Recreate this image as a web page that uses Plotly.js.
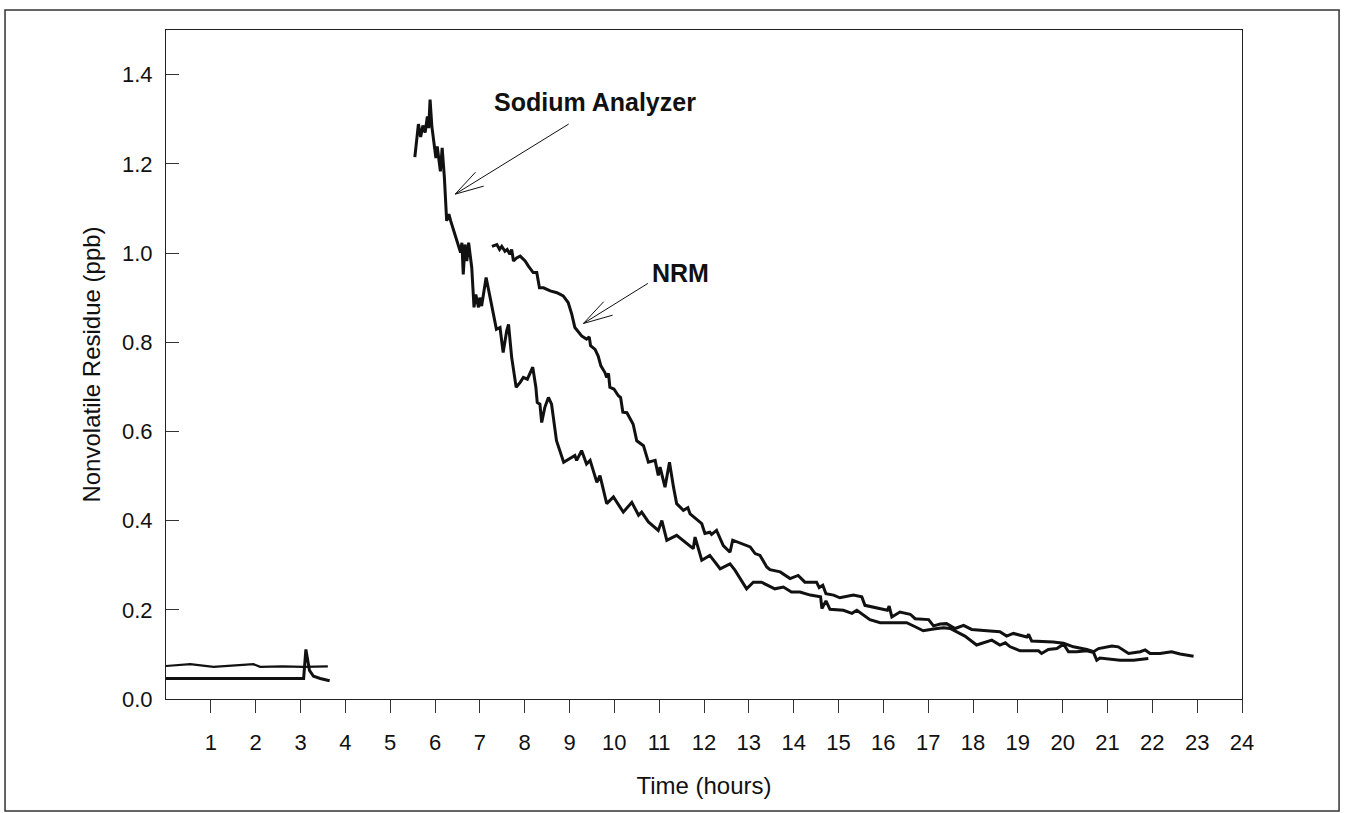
<!DOCTYPE html>
<html>
<head>
<meta charset="utf-8">
<script src="https://cdn.plot.ly/plotly-3.0.1.min.js"></script>
<style>
html,body{margin:0;padding:0;background:#fff;}
#chart{width:1348px;height:813px;}
</style>
</head>
<body>
<div id="chart"></div>
<script>
// ---- data ----
const sodiumHours = [5.55,5.63,5.68,5.73,5.78,5.83,5.86,5.89,5.93,5.96,5.99,6.02,6.05,6.10,6.12,6.16,6.21,6.26,6.31,6.35,6.41,6.47,6.53,6.57,6.60,6.63,6.67,6.71,6.75,6.78,6.82,6.87,6.91,6.97,7.00,7.04,7.14,7.23,7.30,7.37,7.45,7.52,7.60,7.64,7.71,7.81,7.90,7.97,8.06,8.18,8.25,8.28,8.34,8.38,8.45,8.53,8.60,8.71,8.87,9.12,9.16,9.27,9.38,9.46,9.53,9.61,9.68,9.76,9.83,9.98,10.20,10.39,10.54,10.61,10.76,10.98,11.06,11.17,11.39,11.76,11.80,11.95,12.13,12.36,12.58,12.69,12.95,13.10,13.28,13.58,13.77,13.95,14.14,14.37,14.60,14.63,14.72,14.81,15.11,15.30,15.41,15.70,15.93,16.19,16.52,16.71,16.89,17.12,17.34,17.49,17.64,17.82,18.08,18.42,18.60,18.72,18.83,19.05,19.46,19.53,19.68,19.87,20.02,20.13,20.31,20.54,20.69,20.76,20.83,21.28,21.58,21.91];
const sodiumPpb = [1.215,1.289,1.260,1.286,1.270,1.306,1.280,1.344,1.284,1.258,1.243,1.213,1.239,1.198,1.183,1.236,1.168,1.072,1.087,1.072,1.053,1.034,1.016,1.001,1.023,0.952,1.019,0.982,1.023,0.997,0.967,0.878,0.907,0.878,0.900,0.881,0.945,0.900,0.863,0.829,0.833,0.777,0.826,0.840,0.766,0.699,0.710,0.721,0.717,0.744,0.699,0.665,0.661,0.620,0.654,0.676,0.661,0.579,0.531,0.546,0.535,0.557,0.527,0.535,0.512,0.486,0.501,0.468,0.438,0.453,0.419,0.441,0.412,0.419,0.397,0.378,0.400,0.356,0.367,0.337,0.363,0.311,0.322,0.292,0.303,0.289,0.247,0.262,0.262,0.247,0.251,0.240,0.240,0.233,0.229,0.203,0.220,0.201,0.199,0.192,0.199,0.178,0.171,0.171,0.171,0.162,0.153,0.157,0.160,0.158,0.151,0.141,0.121,0.132,0.121,0.126,0.117,0.108,0.108,0.102,0.111,0.113,0.123,0.106,0.106,0.108,0.104,0.087,0.092,0.087,0.087,0.091];

const nrmHours = [7.27,7.38,7.44,7.49,7.56,7.61,7.67,7.71,7.75,7.82,7.90,8.01,8.08,8.19,8.27,8.33,8.42,8.57,8.72,8.86,8.97,9.05,9.12,9.27,9.38,9.44,9.47,9.57,9.64,9.70,9.79,9.83,9.87,9.90,9.99,10.09,10.14,10.19,10.28,10.42,10.50,10.65,10.76,10.91,10.98,11.02,11.13,11.23,11.32,11.39,11.54,11.64,11.69,11.95,12.02,12.13,12.17,12.28,12.43,12.58,12.64,13.03,13.14,13.25,13.40,13.47,13.70,13.92,14.10,14.25,14.51,14.57,14.65,14.72,14.89,15.03,15.33,15.52,15.59,15.93,16.09,16.13,16.19,16.37,16.60,16.71,17.01,17.12,17.27,17.41,17.60,17.79,17.97,18.31,18.60,18.75,18.90,19.20,19.24,19.31,19.79,20.02,20.24,20.54,20.69,20.80,21.10,21.24,21.35,21.47,21.73,21.84,21.95,22.17,22.43,22.62,22.92];
const nrmPpb = [1.015,1.019,1.008,1.015,1.004,1.008,0.997,1.008,0.982,0.989,0.993,0.982,0.971,0.956,0.956,0.922,0.922,0.915,0.911,0.904,0.889,0.863,0.833,0.814,0.807,0.812,0.792,0.784,0.769,0.747,0.732,0.721,0.730,0.699,0.695,0.680,0.676,0.643,0.642,0.616,0.579,0.568,0.531,0.535,0.501,0.520,0.475,0.531,0.475,0.438,0.423,0.429,0.415,0.393,0.371,0.374,0.369,0.378,0.344,0.329,0.356,0.341,0.326,0.322,0.296,0.290,0.285,0.270,0.277,0.262,0.262,0.250,0.255,0.236,0.233,0.227,0.233,0.229,0.210,0.203,0.199,0.208,0.184,0.195,0.190,0.180,0.178,0.164,0.168,0.169,0.158,0.165,0.156,0.153,0.151,0.141,0.147,0.139,0.145,0.130,0.128,0.125,0.117,0.111,0.106,0.113,0.119,0.117,0.110,0.102,0.106,0.110,0.102,0.102,0.106,0.101,0.096];

const baseAHours = [0,0.54,1.06,1.58,1.95,2.10,2.60,3.06,3.61];
const baseAPpb   = [0.074,0.078,0.072,0.076,0.078,0.072,0.073,0.072,0.073];
const baseBHours = [0,3.07,3.12,3.20,3.29,3.44,3.65];
const baseBPpb   = [0.046,0.046,0.111,0.064,0.051,0.046,0.041];

const xTickVals = [1,2,3,4,5,6,7,8,9,10,11,12,13,14,15,16,17,18,19,20,21,22,23,24];
const yTickVals = [0,0.2,0.4,0.6,0.8,1.0,1.2,1.4];
const labelSodium = "Sodium Analyzer";
const labelNRM = "NRM";

// ---- chart ----
const FONT = '"Liberation Sans", Arial, Helvetica, sans-serif';
const INK = '#111111';

function line(x, y, w) {
  return {x: x, y: y, type: 'scatter', mode: 'lines',
          line: {color: INK, width: w, shape: 'linear'},
          hoverinfo: 'skip', showlegend: false};
}

const traces = [
  line(baseAHours, baseAPpb, 2.2),
  line(baseBHours, baseBPpb, 3),
  line(sodiumHours, sodiumPpb, 3),
  line(nrmHours, nrmPpb, 3)
];

// arrow = main shaft + two thin barbs, all starting at the tip
function arrow(tipX, tipY, shaft, barb1, barb2) {
  return [shaft, barb1, barb2].map(o => ({
    x: tipX, y: tipY, xref: 'x', yref: 'y', text: '', showarrow: true,
    arrowhead: 0, arrowwidth: 1, arrowcolor: INK, ax: o[0], ay: o[1],
    standoff: 0, startstandoff: 0
  }));
}

const annotations = [
  {x: 7.27, y: 1.338, xref: 'x', yref: 'y', text: '<b>' + labelSodium + '</b>',
   showarrow: false, xanchor: 'left', yanchor: 'middle',
   font: {family: FONT, size: 25, color: INK}},
  {x: 10.80, y: 0.955, xref: 'x', yref: 'y', text: '<b>' + labelNRM + '</b>',
   showarrow: false, xanchor: 'left', yanchor: 'middle',
   font: {family: FONT, size: 25, color: INK}}
].concat(
  arrow(6.45, 1.132, [115, -71], [30, -8.4], [21.7, -23.4]),
  arrow(9.31, 0.842, [66, -41], [21.7, -23.3], [30.7, -8.7])
);

const layout = {
  width: 1348, height: 813,
  margin: {l: 166, r: 106, t: 30, b: 114, pad: 0},
  paper_bgcolor: '#ffffff', plot_bgcolor: '#ffffff',
  font: {family: FONT, color: INK, size: 22},
  showlegend: false,
  xaxis: {
    range: [0, 24], tickvals: xTickVals, ticktext: xTickVals.map(String),
    ticks: 'outside', ticklen: 13, tickwidth: 1, tickcolor: '#333',
    ticklabelstandoff: 11,
    showline: true, linecolor: '#222', linewidth: 1, mirror: true,
    showgrid: false, zeroline: false,
    tickfont: {family: FONT, size: 22, color: INK},
    title: {text: 'Time (hours)', font: {family: FONT, size: 24, color: INK}, standoff: 22}
  },
  yaxis: {
    range: [0, 1.5], tickvals: yTickVals, ticktext: yTickVals.map(v => v.toFixed(1)),
    ticks: 'inside', ticklen: 13, tickwidth: 1, tickcolor: '#333',
    ticklabelstandoff: 8,
    showline: true, linecolor: '#222', linewidth: 1, mirror: true,
    showgrid: false, zeroline: false,
    tickfont: {family: FONT, size: 22, color: INK},
    title: {text: 'Nonvolatile Residue (ppb)', font: {family: FONT, size: 24, color: INK}, standoff: 14}
  },
  annotations: annotations,
  shapes: [{
    type: 'rect', xref: 'paper', yref: 'paper',
    x0: -0.1496, x1: 1.0902, y0: -0.1674, y1: 1.0299,
    line: {color: '#333', width: 1.5}, fillcolor: 'rgba(0,0,0,0)', layer: 'above'
  }]
};

Plotly.newPlot('chart', traces, layout, {staticPlot: true, displayModeBar: false});
</script>
</body>
</html>
